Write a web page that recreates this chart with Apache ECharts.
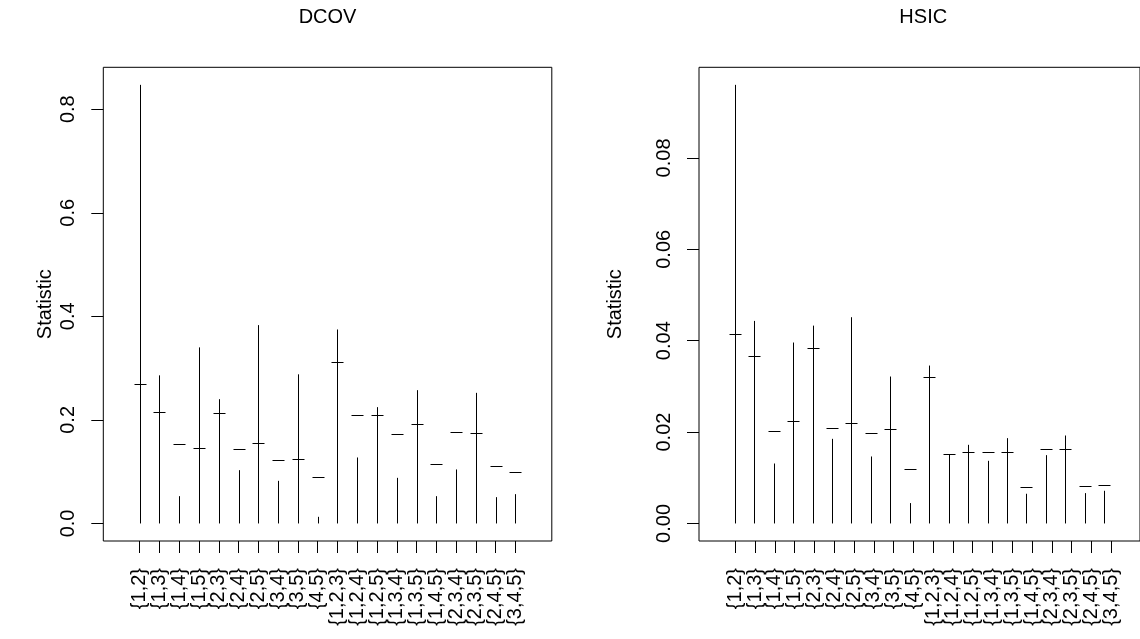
<!DOCTYPE html>
<html>
<head>
<meta charset="utf-8">
<title>DCOV / HSIC</title>
<script src="https://cdn.jsdelivr.net/npm/echarts@6/dist/echarts.min.js"></script>
<style>
  html, body { margin: 0; padding: 0; background: #fff; }
  #chart { width: 1140px; height: 639px; }
</style>
</head>
<body>
<div id="chart"></div>
<script>
// Variable subsets
const categories = ['{1,2}', '{1,3}', '{1,4}', '{1,5}', '{2,3}', '{2,4}', '{2,5}', '{3,4}', '{3,5}', '{4,5}',
  '{1,2,3}', '{1,2,4}', '{1,2,5}', '{1,3,4}', '{1,3,5}', '{1,4,5}', '{2,3,4}', '{2,3,5}', '{2,4,5}', '{3,4,5}'];

// DCOV: marked value (dash) and upper end of the segment
const dcovMark = [0.270, 0.2155, 0.1525, 0.146, 0.2136, 0.144, 0.1545, 0.1216, 0.1236, 0.0888,
  0.3109, 0.2085, 0.2085, 0.1718, 0.1911, 0.1145, 0.1757, 0.1738, 0.1101, 0.0985];
const dcovTop = [0.847, 0.286, 0.0527, 0.340, 0.240, 0.1029, 0.383, 0.0823, 0.288, 0.0128,
  0.3746, 0.1274, 0.2246, 0.0881, 0.2574, 0.0527, 0.1043, 0.2522, 0.0508, 0.0566];

// HSIC: marked value (dash) and upper end of the segment
const hsicMark = [0.04142, 0.03668, 0.02034, 0.02253, 0.03836, 0.02086, 0.02196, 0.01969, 0.02064, 0.01181,
  0.03216, 0.01531, 0.01554, 0.01554, 0.01554, 0.00788, 0.0164, 0.01619, 0.0081, 0.00831];
const hsicTop = [0.0960, 0.04433, 0.01312, 0.0396, 0.0433, 0.01852, 0.04514, 0.01466, 0.03216, 0.00446,
  0.03456, 0.01503, 0.01721, 0.01371, 0.01867, 0.0065, 0.01495, 0.01925, 0.00664, 0.00715];

// Tick labels
const dcovTicks = [0, 0.2, 0.4, 0.6, 0.8];
const hsicTicks = [0, 0.02, 0.04, 0.06, 0.08];
const titles = ['DCOV', 'HSIC'];
const yName = 'Statistic';

const FONT = "'Liberation Sans', Arial, Helvetica, sans-serif";
const positions = categories.map((_, i) => i + 1);

// Axis ranges padded by 4% on each side, in the manner of R's default
function padded(lo, hi) {
  const d = (hi - lo) * 0.04;
  return [lo - d, hi + d];
}
const xRange = padded(0, categories.length + 1);
const dcovRange = padded(0, Math.max(...dcovTop));
const hsicRange = padded(0, Math.max(...hsicTop));

const crisp = v => Math.round(v) + 0.5;

function renderSegment(params, api) {
  const x = api.value(0);
  const base = api.coord([x, 0]);
  const top = api.coord([x, api.value(2)]);
  const mid = api.coord([x, api.value(1)]);
  const cx = crisp(base[0]);
  const style = { stroke: '#000', lineWidth: 1, fill: null };
  return {
    type: 'group',
    children: [
      { type: 'line', shape: { x1: cx, y1: base[1], x2: cx, y2: top[1] }, style },
      { type: 'line', shape: { x1: cx - 6, y1: crisp(mid[1]), x2: cx + 6, y2: crisp(mid[1]) }, style }
    ]
  };
}

// Plot box geometry
const boxW = 448.5, boxH = 473.7, boxTop = 67.3;
const boxLefts = [103.3, 699];
const axisStroke = { color: '#000', width: 1 };
const textBase = { fontSize: 20, fontFamily: FONT, color: '#000' };

const panels = [
  { range: dcovRange, ticks: dcovTicks, digits: 1, gap: 48, mark: dcovMark, top: dcovTop },
  { range: hsicRange, ticks: hsicTicks, digits: 2, gap: 74, mark: hsicMark, top: hsicTop }
];

const grids = [], xAxes = [], yAxes = [], series = [];

panels.forEach((p, k) => {
  const L = boxLefts[k];
  const xSpan = xRange[1] - xRange[0];
  const ySpan = p.range[1] - p.range[0];
  const tickLo = p.ticks[0], tickHi = p.ticks[p.ticks.length - 1];
  const g0 = grids.length;

  // 1) plot box holding the segments
  grids.push({ left: L, top: boxTop, width: boxW, height: boxH,
    show: true, borderColor: '#000', borderWidth: 1, backgroundColor: 'transparent' });
  // 2) band for the subset labels: one slot per subset, centred on x = 1..n
  grids.push({ left: L + (0.5 - xRange[0]) / xSpan * boxW, top: boxTop,
    width: categories.length / xSpan * boxW, height: boxH, show: false });
  // 3) band spanning the labelled statistic ticks
  grids.push({ left: L, top: boxTop + (p.range[1] - tickHi) / ySpan * boxH,
    width: boxW, height: (tickHi - tickLo) / ySpan * boxH, show: false });

  // axes of the plot box (only the y name is visible)
  xAxes.push({ type: 'value', gridIndex: g0, min: xRange[0], max: xRange[1], show: false });
  yAxes.push({
    type: 'value', gridIndex: g0, min: p.range[0], max: p.range[1],
    axisLine: { show: false }, axisTick: { show: false }, axisLabel: { show: false }, splitLine: { show: false },
    name: yName, nameLocation: 'middle', nameRotate: 90, nameGap: p.gap, nameTextStyle: textBase
  });

  // subset label axis (sits on the bottom edge of the box)
  xAxes.push({
    type: 'category', gridIndex: g0 + 1, data: categories, boundaryGap: true,
    axisLine: { show: false },
    axisTick: { show: true, alignWithLabel: true, interval: 0, length: 12, lineStyle: axisStroke },
    axisLabel: Object.assign({ interval: 0, rotate: 90, margin: 27 }, textBase),
    splitLine: { show: false }
  });
  yAxes.push({ type: 'value', gridIndex: g0 + 1, min: 0, max: 1, show: false });

  // statistic tick axis (sits on the left edge of the box)
  xAxes.push({ type: 'value', gridIndex: g0 + 2, min: 0, max: 1, show: false });
  const step = p.ticks[1] - p.ticks[0];
  yAxes.push({
    type: 'value', gridIndex: g0 + 2, min: tickLo, max: tickHi, interval: step,
    axisLine: { show: false },
    axisTick: { show: true, length: 12, lineStyle: axisStroke },
    axisLabel: Object.assign({ rotate: 90, margin: 25, formatter: v => Number(v).toFixed(p.digits) }, textBase),
    splitLine: { show: false }
  });

  series.push({
    type: 'custom', xAxisIndex: g0, yAxisIndex: g0, renderItem: renderSegment, silent: true,
    data: positions.map((x, i) => [x, p.mark[i], p.top[i]])
  });
});

const chart = echarts.init(document.getElementById('chart'), null, { renderer: 'canvas' });
chart.setOption({
  backgroundColor: '#fff',
  animation: false,
  title: titles.map((t, i) => ({
    text: t,
    left: boxLefts[i] + boxW / 2,
    textAlign: 'center',
    top: 7,
    padding: 0,
    textStyle: Object.assign({ fontWeight: 'normal' }, textBase)
  })),
  grid: grids,
  xAxis: xAxes,
  yAxis: yAxes,
  series: series
});
</script>
</body>
</html>
